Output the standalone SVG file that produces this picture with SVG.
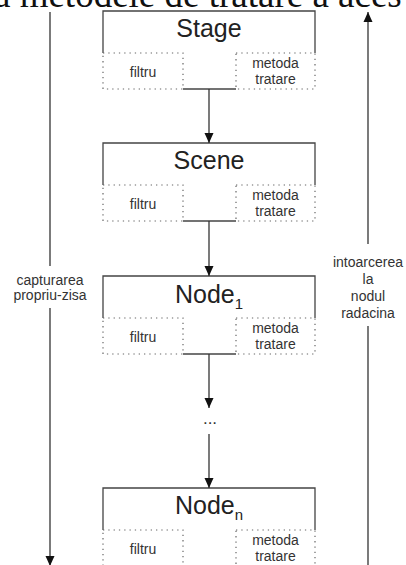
<svg xmlns="http://www.w3.org/2000/svg" width="406" height="565" viewBox="0 0 406 565">
  <style>
    .frame { fill: none; stroke: #444; stroke-width: 1.3; }
    .dot { fill: none; stroke: #666; stroke-width: 1.2; stroke-dasharray: 1.3 4; }
    .title { font-family: "Liberation Sans", Arial, sans-serif; font-size: 25px; fill: #222; text-anchor: middle; }
    .sub { font-size: 15px; }
    .small { font-family: "Liberation Sans", Arial, sans-serif; font-size: 14px; fill: #333; text-anchor: middle; }
    .wire { fill: none; stroke: #333; stroke-width: 1.3; }
    .head { fill: #111; }
    .caption { font-family: "Liberation Serif", "Times New Roman", serif; font-size: 37px; fill: #111; }
  </style>
  <defs>
    <marker id="arrow" markerUnits="userSpaceOnUse" markerWidth="10" markerHeight="10" refX="10" refY="5" orient="auto">
      <path class="head" d="M0,0.5 L10,5 L0,9.5 z"/>
    </marker>
    <!-- one node: solid title band, dotted "filtru" and "metoda tratare" cells -->
    <g id="nodeShape">
      <path class="frame" d="M103,42 V0 H315 V42"/>
      <rect class="dot" x="103" y="42" width="80" height="36"/>
      <rect class="dot" x="236" y="42" width="79" height="36"/>
      <path class="frame" d="M183,78 H236"/>
      <text class="small" x="143" y="66">filtru</text>
      <text class="small" x="275.5" y="57">metoda</text>
      <text class="small" x="275.5" y="73">tratare</text>
    </g>
  </defs>

  <rect width="406" height="565" fill="#fff"/>

  <!-- line of running text above the figure, cut by the frame -->
  <text class="caption" x="-6" y="7">a metodele de tratare a aces</text>

  <g id="stage" transform="translate(0,11)">
    <use href="#nodeShape"/>
    <text class="title" x="209" y="26">Stage</text>
  </g>

  <g id="scene" transform="translate(0,143)">
    <use href="#nodeShape"/>
    <text class="title" x="209" y="26">Scene</text>
  </g>

  <g id="node1" transform="translate(0,276)">
    <use href="#nodeShape"/>
    <text class="title" x="209" y="27">Node<tspan class="sub" dy="6">1</tspan></text>
  </g>

  <g id="ellipsis">
    <text class="small" x="210" y="424" style="font-size:17px">...</text>
  </g>

  <g id="noden" transform="translate(0,488)">
    <use href="#nodeShape"/>
    <text class="title" x="209" y="26">Node<tspan class="sub" dy="6">n</tspan></text>
  </g>

  <!-- capture / bubbling side arrows with their labels -->
  <g id="side-labels">
    <text class="small" x="50" y="285">capturarea</text>
    <text class="small" x="50" y="300">propriu-zisa</text>
    <text class="small" x="368" y="267">intoarcerea</text>
    <text class="small" x="368" y="284">la</text>
    <text class="small" x="368" y="301">nodul</text>
    <text class="small" x="368" y="318">radacina</text>
  </g>

  <g id="connectors">
    <line class="wire" x1="209" y1="89" x2="209" y2="143" marker-end="url(#arrow)"/>
    <line class="wire" x1="209" y1="221" x2="209" y2="276" marker-end="url(#arrow)"/>
    <line class="wire" x1="209" y1="354" x2="209" y2="408" marker-end="url(#arrow)"/>
    <line class="wire" x1="209" y1="434" x2="209" y2="488" marker-end="url(#arrow)"/>
    <line class="wire" x1="50" y1="12" x2="50" y2="266"/>
    <line class="wire" x1="50" y1="308" x2="50" y2="566" marker-end="url(#arrow)"/>
    <line class="wire" x1="368" y1="565" x2="368" y2="326"/>
    <line class="wire" x1="368" y1="244" x2="368" y2="12" marker-end="url(#arrow)"/>
  </g>
</svg>
